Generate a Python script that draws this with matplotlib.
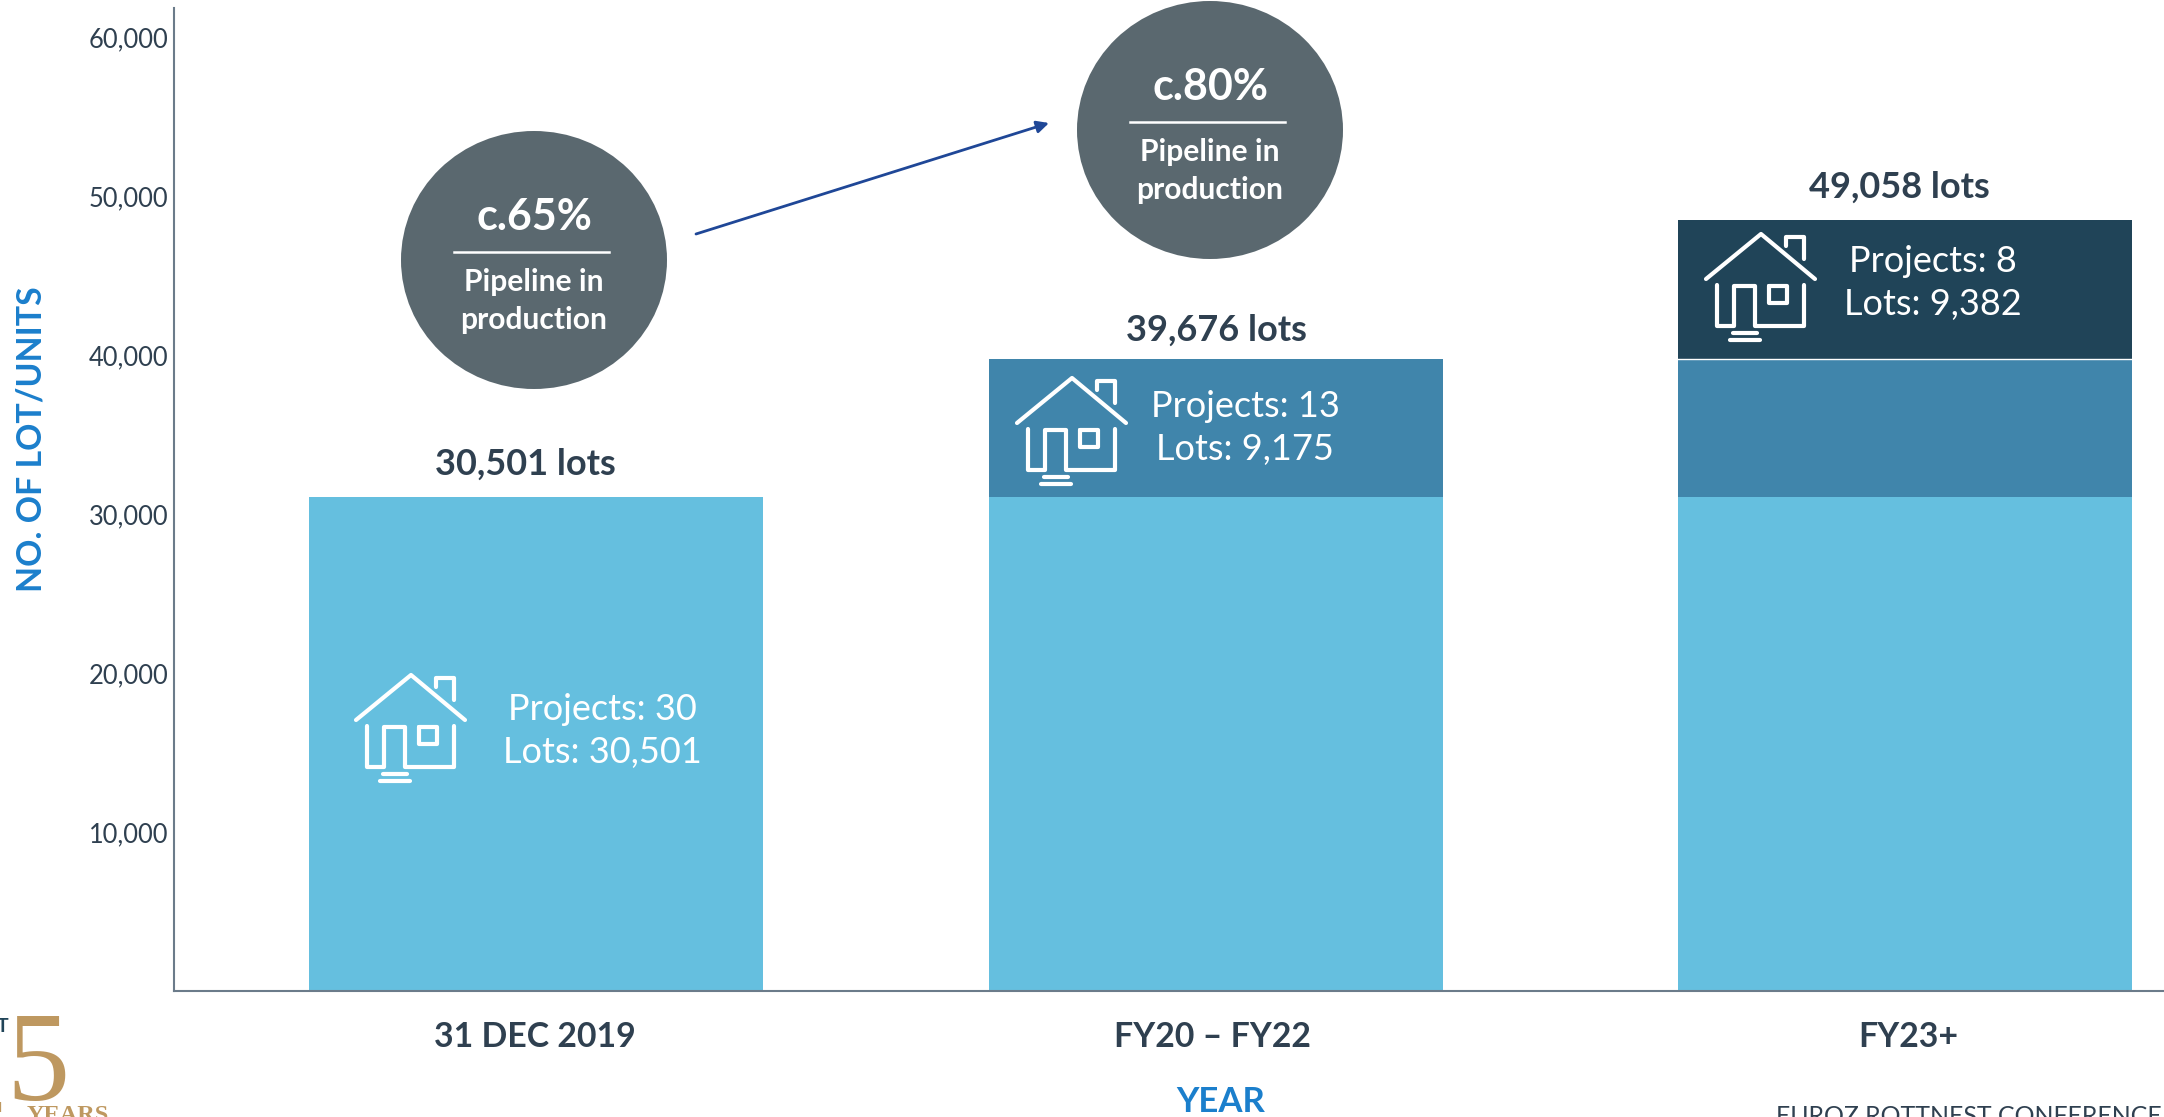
import matplotlib
matplotlib.use("Agg")
import matplotlib.pyplot as plt
from matplotlib.patches import Ellipse

plt.rcParams['font.family'] = ['Lato', 'DejaVu Sans']

# data
categories = ['31 DEC 2019', 'FY20 – FY22', 'FY23+']
base_lots = [31070, 31070, 31070]
mid_lots = [0, 8680, 8680]
top_lots = [0, 0, 8740]
total_labels = ['30,501 lots', '39,676 lots', '49,058 lots']
project_labels = ['Projects: 30\nLots: 30,501', 'Projects: 13\nLots: 9,175', 'Projects: 8\nLots: 9,382']
y_ticks = [10000, 20000, 30000, 40000, 50000, 60000]
circle_big = ['c.65%', 'c.80%']
circle_small = ['Pipeline in\nproduction', 'Pipeline in\nproduction']

LIGHT = '#65BFDF'
MID = '#4085AB'
DARK = '#204458'
GREY = '#5A686F'
TEXT = '#2F4050'
BLUE = '#1B7FCC'
GOLD = '#BE9860'

W, H = 2164, 1117
fig = plt.figure(figsize=(W / 100, H / 100), dpi=100, facecolor='white')

# main axes, x runs in figure pixels because the bars are not evenly spaced
ax = fig.add_axes([174 / W, (H - 991) / H, (W - 174) / W, 983 / H])
bar_x = [536, 1216, 1905]
bar_w = 454
ax.bar(bar_x, base_lots, width=bar_w, color=LIGHT)
ax.bar(bar_x, mid_lots, width=bar_w, bottom=base_lots, color=MID)
bottoms = [b + m for b, m in zip(base_lots, mid_lots)]
ax.bar(bar_x, top_lots, width=bar_w, bottom=bottoms, color=DARK)
ax.plot([bar_x[2] - bar_w / 2, bar_x[2] + bar_w / 2], [bottoms[2], bottoms[2]], color='white', lw=1)

ax.set_xlim(174, W)
ax.set_ylim(0, 61824)
ax.set_xticks([])
ax.set_yticks(y_ticks)
ax.set_yticklabels([f'{v:,}' for v in y_ticks], fontsize=18.4, color=TEXT)
ax.tick_params(axis='y', length=0, pad=4)
for s in ['top', 'right']:
    ax.spines[s].set_visible(False)
for s in ['left', 'bottom']:
    ax.spines[s].set_color('#6B7B8A')
    ax.spines[s].set_linewidth(1.5)

# overlay in pixel coordinates for the annotations
ov = fig.add_axes([0, 0, 1, 1])
ov.set_xlim(0, W)
ov.set_ylim(H, 0)
ov.axis('off')
ov.patch.set_alpha(0)


def house(x0, y0):
    # icon, x0/y0 = left roof end / apex
    paths = [
        ([0, 55, 109], [45, 0, 45]),
        ([80, 80, 98, 98], [12, 3, 3, 25]),
        ([11, 11, 28, 28, 49, 49, 98, 98], [51, 92, 92, 52, 52, 92, 92, 51]),
        ([63, 63, 81, 81, 63], [52, 69, 69, 52, 52]),
        ([27, 51], [99, 99]),
        ([24, 54], [106, 106]),
    ]
    for px, py in paths:
        ov.plot([x0 + p for p in px], [y0 + p for p in py], color='white', lw=3,
                solid_capstyle='round', solid_joinstyle='round')


house(356, 675)
house(1017, 378)
house(1706, 234)

text_x = [602, 1245, 1933]
text_y = [731, 428, 283]
for x, y, s in zip(text_x, text_y, project_labels):
    ov.text(x, y, s, color='white', fontsize=26, ha='center', va='center', linespacing=1.38)

total_x = [525, 1216, 1899]
total_y = [464, 330, 187]
for x, y, s in zip(total_x, total_y, total_labels):
    ov.text(x, y, s, color=TEXT, fontsize=26, fontweight='bold', ha='center', va='center')

cat_x = [535, 1212, 1908]
for x, s in zip(cat_x, categories):
    ov.text(x, 1037, s, color=TEXT, fontsize=24.4, fontweight='bold', ha='center', va='center')

ov.text(1221, 1102, 'YEAR', color=BLUE, fontsize=25, fontweight='bold', ha='center', va='center')
ov.text(32, 439, 'NO. OF LOT/UNITS', color=BLUE, fontsize=24.4, fontweight='bold', rotation=90,
        ha='center', va='center')

# pipeline circles
circ_x = [534, 1210]
circ_y = [260, 130]
for cx, cy, big, small in zip(circ_x, circ_y, circle_big, circle_small):
    ov.add_patch(Ellipse((cx, cy), 266, 258, color=GREY, lw=0))
    ov.text(cx, cy - 43, big, color='white', fontsize=31, fontweight='bold', ha='center', va='center')
    ov.plot([cx - 80, cx + 75], [cy - 8, cy - 8], color='white', lw=1.8)
    ov.text(cx, cy + 41, small, color='white', fontsize=21.6, fontweight='bold', ha='center', va='center',
            linespacing=1.42)

ov.annotate('', xy=(1049, 123), xytext=(696, 234),
            arrowprops=dict(arrowstyle='-|>', color='#1F4797', lw=2, mutation_scale=18,
                            shrinkA=0, shrinkB=0))

# logo remains, cut off by the page edge
ov.text(38, 1100, '5', color=GOLD, fontsize=91, family='Liberation Serif', ha='center', va='baseline')
ov.text(-24, 1112, '2', color=GOLD, fontsize=91, family='Liberation Serif', ha='center', va='baseline',
        clip_on=True)
ov.text(3, 1027, 'T', color=DARK, fontsize=14, fontweight='bold', ha='center', va='center')
ov.text(27, 1121, 'YEARS', color=GOLD, fontsize=17.5, fontweight='bold', family='Liberation Serif',
        ha='left', va='baseline')

ov.text(1776, 1105, 'EUROZ ROTTNEST CONFERENCE', color=TEXT, fontsize=17.9, ha='left', va='top')

fig.savefig('out.png', dpi=100)
